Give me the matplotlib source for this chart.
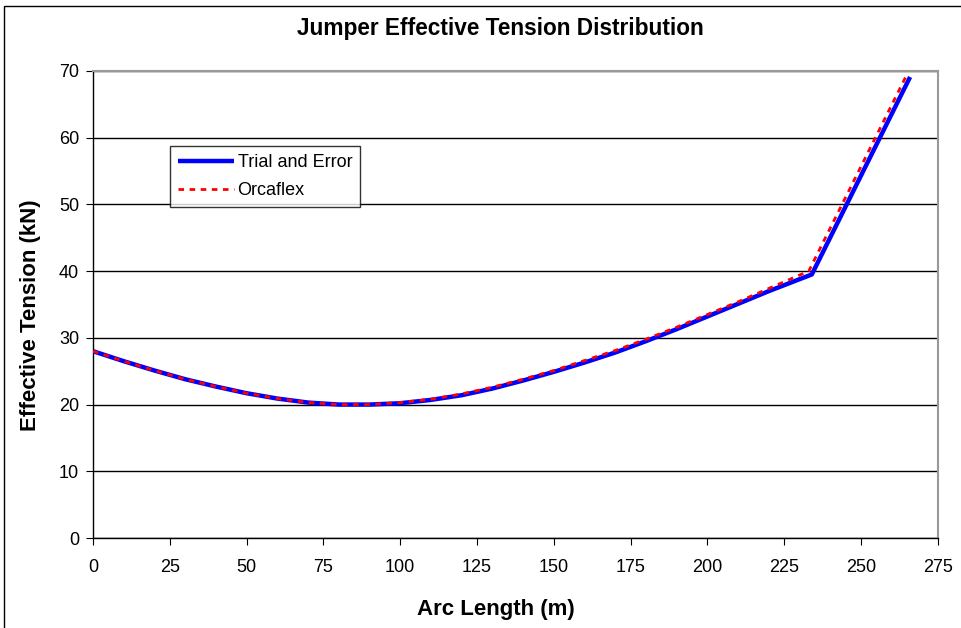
import numpy as np
import matplotlib.pyplot as plt
from matplotlib.patches import Rectangle

plt.rcParams['font.family'] = ['Liberation Sans', 'DejaVu Sans']

# arc length (m) and effective tension (kN)
arc_trial = [0, 10, 20, 30, 40, 50, 60, 70, 80, 90, 100, 110, 120, 130, 140,
             150, 160, 170, 180, 190, 200, 210, 220, 234, 266]
ten_trial = [28.0, 26.5, 25.1, 23.8, 22.7, 21.7, 20.9, 20.3, 20.0, 20.0, 20.2,
             20.7, 21.4, 22.4, 23.6, 24.9, 26.3, 27.8, 29.5, 31.3, 33.2, 35.1,
             37.0, 39.5, 69.1]

arc_orca = [0, 10, 20, 30, 40, 50, 60, 70, 80, 90, 100, 110, 120, 130, 140,
            150, 160, 170, 180, 190, 200, 210, 220, 233, 265]
ten_orca = [28.0, 26.5, 25.1, 23.8, 22.7, 21.7, 20.9, 20.3, 20.0, 20.0, 20.3,
            20.8, 21.6, 22.6, 23.8, 25.1, 26.6, 28.1, 29.8, 31.6, 33.5, 35.4,
            37.4, 40.0, 69.5]

x_ticks = np.arange(0, 276, 25)
y_ticks = np.arange(0, 71, 10)

fig = plt.figure(figsize=(9.61, 6.28), dpi=100)
ax = fig.add_axes([0.0968, 0.1433, 0.879, 0.7437])

ax.plot(arc_trial, ten_trial, color='#0000ff', lw=3.2, label='Trial and Error',
        solid_capstyle='butt', zorder=3)
ax.plot(arc_orca, ten_orca, color='#ff0000', lw=2.0, ls=(0, (2, 2)),
        label='Orcaflex', zorder=4)

ax.set_xlim(0, 275)
ax.set_ylim(0, 70)
ax.set_xticks(x_ticks)
ax.set_yticks(y_ticks)
ax.tick_params(labelsize=13, length=5, direction='out', colors='black')
ax.tick_params(axis='x', pad=10)
ax.tick_params(axis='y', pad=5)
ax.grid(axis='y', color='black', lw=1)
ax.set_axisbelow(True)

for s in ['top', 'right']:
    ax.spines[s].set_color('#999999')
    ax.spines[s].set_linewidth(1.5)
for s in ['left', 'bottom']:
    ax.spines[s].set_color('black')
    ax.spines[s].set_linewidth(1)

ax.set_xlabel('Arc Length (m)', fontsize=16, fontweight='bold', va='center')
ax.set_ylabel('Effective Tension (kN)', fontsize=16, fontweight='bold', va='center')
ax.xaxis.set_label_coords(0.477, -0.154)
ax.yaxis.set_label_coords(-0.0746, 0.4775)
fig.text(0.521, 0.954, 'Jumper Effective Tension Distribution', fontsize=16.3,
         fontweight='bold', ha='center', va='center')

leg = ax.legend(loc='upper left', bbox_to_anchor=(0.091, 0.839), fontsize=13,
                frameon=True, fancybox=False, edgecolor='black',
                handlelength=3.1, borderpad=0.45, labelspacing=0.6,
                handletextpad=0.2, borderaxespad=0)
leg.get_frame().set_linewidth(1)

# outer chart border
fig.patches.append(Rectangle((4 / 961, -0.05), 1.1, 1.05 - 6 / 628,
                             transform=fig.transFigure, fill=False,
                             edgecolor='black', lw=1))

fig.savefig('out.png', dpi=100)
